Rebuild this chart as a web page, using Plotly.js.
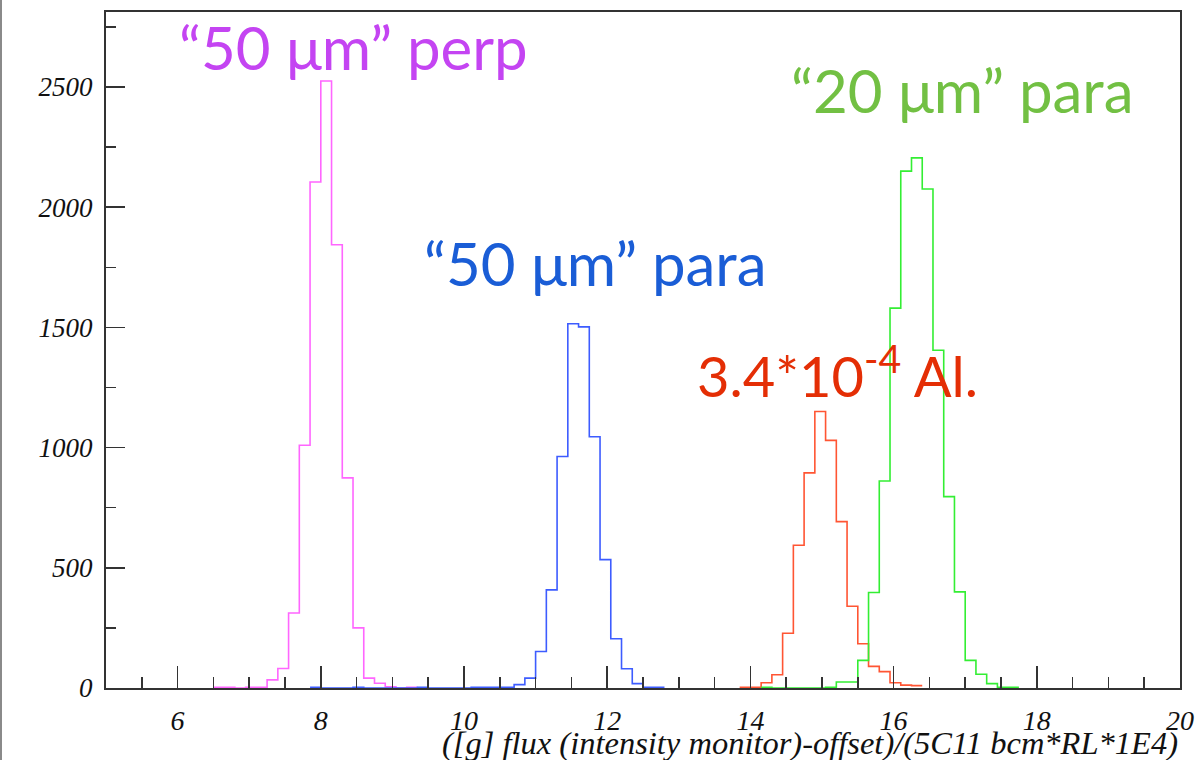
<!DOCTYPE html>
<html>
<head>
<meta charset="utf-8">
<script src="https://cdn.plot.ly/plotly-3.0.1.min.js"></script>
<style>
  html, body { margin: 0; padding: 0; background: #fff; }
  #wrap { position: relative; width: 1196px; height: 760px; }
  #chart { width: 1196px; height: 760px; }
  #edge { position: absolute; left: 0; top: 0; width: 2px; height: 760px; background: #8a8a8a; z-index: 5; }
</style>
</head>
<body>
<div id="wrap"><div id="edge"></div><div id="chart"></div></div>
<script>
// Histogram binning (ROOT TH1: 100 bins from 5 to 20)
const binMin = 5;
const binWidth = 0.15;

// "50 um" perp (magenta) - counts starting at bin index 10 (x = 6.5)
const perp50Start = 10;
const perp50Counts = [3, 3, 0, 3, 3, 34, 81, 312, 1010, 2105, 2525, 1844, 874, 250, 41, 20, 5, 0, 3];

// "50 um" para (blue) - starting at bin index 19 (x = 7.85)
const para50Start = 19;
const para50Counts = [3, 0, 0, 0, 3, 0, 0, 0, 0, 0, 3, 0, 0, 0, 0, 3, 3, 3, 3, 14, 41, 152, 408, 963, 1515, 1502, 1045, 534, 205, 80, 18, 3, 3];

// 3.4e-4 Al (red) - starting at bin index 59 (x = 13.85)
const alStart = 59;
const alCounts = [3, 3, 22, 55, 228, 594, 895, 1150, 1030, 692, 340, 184, 90, 68, 22, 12, 10];

// "20 um" para (green) - starting at bin index 61 (x = 14.15)
const para20Start = 61;
const para20Counts = [3, 0, 0, 0, 0, 0, 3, 25, 25, 115, 397, 861, 1580, 2150, 2205, 2076, 1405, 796, 400, 115, 57, 18, 3, 3];

// Labels
const labels = ["\u201C50 \u03BCm\u201D perp", "\u201C50 \u03BCm\u201D para", "3.4*10<sup>-4</sup> Al.", "\u201C20 \u03BCm\u201D para"];
const xTitle = "([g] flux (intensity monitor)-offset)/(5C11 bcm*RL*1E4)";

function stepTrace(start, counts, color) {
  const xs = [], ys = [];
  for (let i = 0; i < counts.length; i++) {
    xs.push(binMin + (start + i) * binWidth);
    ys.push(counts[i]);
  }
  xs.push(binMin + (start + counts.length) * binWidth);
  ys.push(counts[counts.length - 1]);
  return {
    type: 'scatter', mode: 'lines', x: xs, y: ys,
    line: { shape: 'hv', color: color, width: 1.6 },
    hoverinfo: 'skip', showlegend: false
  };
}

const traces = [
  stepTrace(perp50Start, perp50Counts, '#ff66ff'),
  stepTrace(para50Start, para50Counts, '#3d5cff'),
  stepTrace(alStart, alCounts, '#ff5533'),
  stepTrace(para20Start, para20Counts, '#33ee33')
];

const serif = 'Liberation Serif, Times New Roman, serif';
const sans = 'Lato, Open Sans, sans-serif';

const layout = {
  width: 1196, height: 760,
  margin: { l: 106, r: 16, t: 12, b: 72 },
  paper_bgcolor: '#ffffff', plot_bgcolor: '#ffffff',
  showlegend: false,
  xaxis: {
    range: [5, 20], tick0: 0, dtick: 2,
    ticks: 'inside', ticklen: 22, tickwidth: 1.5, tickcolor: '#333',
    minor: { dtick: 0.5, ticks: 'inside', ticklen: 11, tickwidth: 1.5, tickcolor: '#333' },
    showgrid: false, zeroline: false,
    showline: true, linecolor: '#333', linewidth: 2, mirror: true,
    tickfont: { family: serif, size: 28, color: '#111', style: 'italic' },
    ticklabelstandoff: 6
  },
  yaxis: {
    range: [0, 2812], tick0: 0, dtick: 500, tickformat: 'd',
    ticks: 'inside', ticklen: 19, tickwidth: 1.5, tickcolor: '#333',
    minor: { dtick: 250, ticks: 'inside', ticklen: 10, tickwidth: 1.5, tickcolor: '#333' },
    showgrid: false, zeroline: false,
    showline: true, linecolor: '#333', linewidth: 2, mirror: true,
    tickfont: { family: serif, size: 27, color: '#111', style: 'italic' },
    ticklabelstandoff: 6
  },
  annotations: [
    { xref: 'x', yref: 'y', x: 8.46, y: 2666, text: labels[0], showarrow: false,
      font: { family: sans, size: 60, color: '#c444f2' } },
    { xref: 'x', yref: 'y', x: 11.84, y: 1766, text: labels[1], showarrow: false,
      font: { family: sans, size: 60, color: '#1a5dd6' } },
    { xref: 'x', yref: 'y', x: 15.21, y: 1318, text: labels[2], showarrow: false,
      font: { family: sans, size: 56, color: '#e42e05' } },
    { xref: 'x', yref: 'y', x: 16.96, y: 2487, text: labels[3], showarrow: false,
      font: { family: sans, size: 60, color: '#72c043' } },
    { xref: 'paper', yref: 'paper', x: 1.0, y: -0.082, xanchor: 'right', yanchor: 'middle',
      text: xTitle, showarrow: false,
      font: { family: serif, size: 32.5, color: '#111', style: 'italic' } }
  ]
};

Plotly.newPlot('chart', traces, layout, { displayModeBar: false, staticPlot: true });
</script>
</body>
</html>
